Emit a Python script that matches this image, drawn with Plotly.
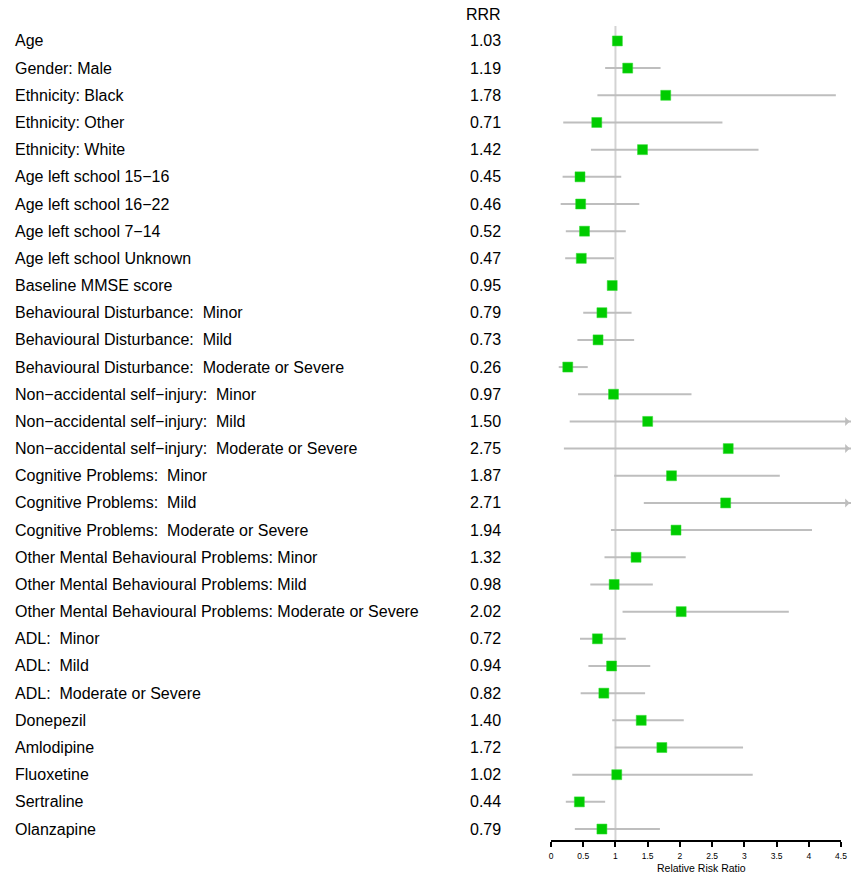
import plotly.graph_objects as go

S2 = ":\u00a0 "
labels = [
    "Age", "Gender: Male", "Ethnicity: Black", "Ethnicity: Other", "Ethnicity: White",
    "Age left school 15\u221216", "Age left school 16\u221222", "Age left school 7\u221214",
    "Age left school Unknown", "Baseline MMSE score",
    "Behavioural Disturbance" + S2 + "Minor", "Behavioural Disturbance" + S2 + "Mild",
    "Behavioural Disturbance" + S2 + "Moderate or Severe",
    "Non\u2212accidental self\u2212injury" + S2 + "Minor",
    "Non\u2212accidental self\u2212injury" + S2 + "Mild",
    "Non\u2212accidental self\u2212injury" + S2 + "Moderate or Severe",
    "Cognitive Problems" + S2 + "Minor", "Cognitive Problems" + S2 + "Mild",
    "Cognitive Problems" + S2 + "Moderate or Severe",
    "Other Mental Behavioural Problems: Minor", "Other Mental Behavioural Problems: Mild",
    "Other Mental Behavioural Problems: Moderate or Severe",
    "ADL" + S2 + "Minor", "ADL" + S2 + "Mild", "ADL" + S2 + "Moderate or Severe",
    "Donepezil", "Amlodipine", "Fluoxetine", "Sertraline", "Olanzapine",
]
rrr = [1.03, 1.19, 1.78, 0.71, 1.42, 0.45, 0.46, 0.52, 0.47, 0.95,
       0.79, 0.73, 0.26, 0.97, 1.50, 2.75, 1.87, 2.71, 1.94, 1.32,
       0.98, 2.02, 0.72, 0.94, 0.82, 1.40, 1.72, 1.02, 0.44, 0.79]
lower = [1.01, 0.84, 0.72, 0.19, 0.62, 0.18, 0.15, 0.23, 0.22, 0.93,
         0.50, 0.41, 0.12, 0.42, 0.29, 0.20, 0.98, 1.44, 0.93, 0.83,
         0.61, 1.11, 0.45, 0.58, 0.46, 0.95, 0.99, 0.33, 0.23, 0.37]
upper = [1.05, 1.70, 4.42, 2.66, 3.22, 1.09, 1.37, 1.16, 0.98, 0.97,
         1.25, 1.29, 0.57, 2.18, 7.70, 37.0, 3.55, 5.10, 4.05, 2.09,
         1.58, 3.69, 1.16, 1.54, 1.46, 2.06, 2.98, 3.13, 0.84, 1.69]
tick_vals = [0, 0.5, 1, 1.5, 2, 2.5, 3, 3.5, 4, 4.5]
tick_text = ["0", "0.5", "1", "1.5", "2", "2.5", "3", "3.5", "4", "4.5"]

XMAX = 4.655
n = len(labels)
rows = list(range(n))

fig = go.Figure()

# reference line at RRR = 1
fig.add_shape(type="line", x0=1, x1=1, y0=0, y1=1, xref="x", yref="paper",
              line=dict(color="#d3d3d3", width=2), layer="below")
# axis line from 0 to 4.5
fig.add_shape(type="line", x0=tick_vals[0], x1=tick_vals[-1], y0=0, y1=0,
              xref="x", yref="paper", line=dict(color="black", width=2))

# CI lines
cx, cy = [], []
for i in rows:
    cx += [lower[i], min(upper[i], XMAX), None]
    cy += [i, i, None]
fig.add_trace(go.Scatter(x=cx, y=cy, mode="lines",
                         line=dict(color="#bebebe", width=2), hoverinfo="skip"))

# arrows for truncated CIs
for i in rows:
    if upper[i] > XMAX:
        fig.add_annotation(x=XMAX - 0.02, y=i, ax=-6, ay=0, text="", showarrow=True,
                           arrowhead=1, arrowsize=1, arrowwidth=1.5,
                           arrowcolor="#bebebe", xref="x", yref="y")

fig.add_trace(go.Scatter(x=rrr, y=rows, mode="markers",
                         marker=dict(symbol="square", size=10, color="#00cc00",
                                     line=dict(color="#33dd33", width=0.5))))

# text columns
PW = 300.0
FS = 16
for i in rows:
    fig.add_annotation(x=(13 - 551) / PW, y=i, xref="paper", yref="y",
                       text=labels[i], showarrow=False, xanchor="left",
                       font=dict(size=FS, color="black"))
    fig.add_annotation(x=(503 - 551) / PW, y=i, xref="paper", yref="y",
                       text=f"{rrr[i]:.2f}", showarrow=False, xanchor="right",
                       font=dict(size=FS, color="black"))
fig.add_annotation(x=(503 - 551) / PW, y=1, yshift=1, xref="paper", yref="paper",
                   yanchor="bottom", text="RRR", showarrow=False, xanchor="right",
                   font=dict(size=FS, color="black"))
fig.add_annotation(x=0.5, y=0, yshift=-27, xref="paper", yref="paper",
                   yanchor="middle", text="Relative Risk Ratio", showarrow=False,
                   borderpad=0, font=dict(size=10.5, color="black"))

fig.update_layout(
    width=851, height=873,
    margin=dict(l=551, r=0, t=26, b=32, pad=0),
    paper_bgcolor="white", plot_bgcolor="white",
    showlegend=False,
    font=dict(family="Liberation Sans, Arial, sans-serif", color="black"),
    xaxis=dict(range=[0, XMAX], tickvals=tick_vals, ticktext=tick_text,
               ticks="outside", ticklen=5, tickwidth=1.5, tickcolor="black",
               showgrid=False, zeroline=False, showline=False,
               tickfont=dict(size=8.5), ticklabelstandoff=2),
    yaxis=dict(range=[n - 1 + 0.44, -0.55], showgrid=False, zeroline=False,
               showline=False, showticklabels=False, ticks=""),
)

fig.write_html("out.html", config={"displayModeBar": False},
               post_script="document.body.style.margin='0';")
